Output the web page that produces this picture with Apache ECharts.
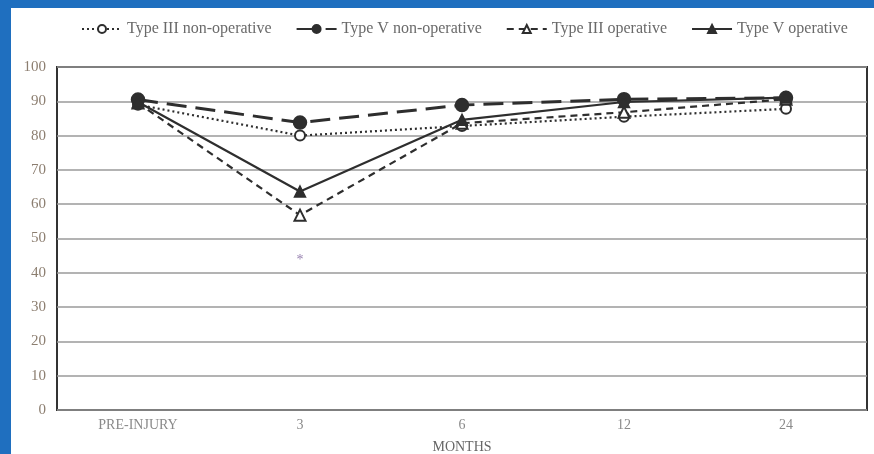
<!DOCTYPE html>
<html>
<head>
<meta charset="utf-8">
<style>
  html, body { margin: 0; padding: 0; background: #ffffff; }
  #wrap { position: relative; width: 874px; height: 454px; overflow: hidden; }
  #chart { position: absolute; left: 0; top: 0; width: 874px; height: 454px; }
  .strip { position: absolute; background: #1f6fbf; }
</style>
<script src="https://cdn.jsdelivr.net/npm/echarts@6/dist/echarts.min.js"></script>
</head>
<body>
<div id="wrap">
  <div id="chart"></div>
  <div class="strip" style="left:0;top:0;width:874px;height:8px;"></div>
  <div class="strip" style="left:0;top:0;width:11px;height:454px;"></div>
</div>
<script>
const categories = ["PRE-INJURY", "3", "6", "12", "24"];
const typeIIINonOp = [89, 80, 82.8, 85.5, 87.8];
const typeVNonOp = [90.5, 83.8, 88.9, 90.6, 91];
const typeIIIOp = [89.5, 56.8, 83.6, 86.8, 90.6];
const typeVOp = [89.8, 63.7, 84.6, 89.8, 91.1];
const asteriskPoint = [[1, 43.5]];

const ink = "#2e2e2e";
const serif = "'Liberation Serif', 'DejaVu Serif', serif";

const chart = echarts.init(document.getElementById("chart"));

const lineSeries = (name, data, lineType, width, symbol, size) => ({
  name,
  type: "line",
  data,
  symbol,
  symbolSize: size,
  color: ink,
  lineStyle: { color: ink, width, type: lineType },
  itemStyle: { color: ink, borderColor: ink, borderWidth: 1.5 },
  z: 3,
});

chart.setOption({
  animation: false,
  backgroundColor: "#ffffff",
  legend: {
    data: ["Type III non-operative", "Type V non-operative", "Type III operative", "Type V operative"],
    top: 16,
    left: 76,
    itemWidth: 40,
    itemHeight: 10,
    itemGap: 24,
    textStyle: { fontFamily: serif, fontSize: 16, color: "#6a6a6a" },
  },
  grid: {
    left: 57,
    right: 7,
    top: 67,
    bottom: 44,
    outerBoundsMode: "none",
    show: true,
    borderColor: "#333",
    borderWidth: 2,
    backgroundColor: "#ffffff",
  },
  xAxis: {
    type: "category",
    data: categories,
    boundaryGap: true,
    name: "MONTHS",
    nameLocation: "middle",
    nameGap: 30,
    nameTextStyle: { fontFamily: serif, fontSize: 14, color: "#666" },
    axisLine: { show: false },
    axisTick: { show: false },
    axisLabel: { fontFamily: serif, fontSize: 14, color: "#8a8a8a", margin: 8 },
  },
  yAxis: {
    type: "value",
    min: 0,
    max: 100,
    interval: 10,
    axisLine: { show: false },
    axisTick: { show: false },
    axisLabel: { fontFamily: serif, fontSize: 15, color: "#8c7e70", margin: 11 },
    splitLine: { lineStyle: { color: "#9a9a9a", width: 1.5 } },
  },
  series: [
    lineSeries("Type III non-operative", typeIIINonOp, [2, 3], 2.2, "emptyCircle", 10),
    lineSeries("Type V non-operative", typeVNonOp, [20, 9], 3, "circle", 13),
    lineSeries("Type III operative", typeIIIOp, [7, 5], 2.2, "emptyTriangle", 11),
    lineSeries("Type V operative", typeVOp, "solid", 2.2, "triangle", 11),
    {
      name: "sig",
      type: "scatter",
      data: asteriskPoint,
      symbolSize: 1,
      itemStyle: { color: "transparent" },
      label: {
        show: true,
        position: "inside",
        formatter: "*",
        fontFamily: serif,
        fontSize: 14,
        color: "#7a5f9a",
      },
      z: 4,
    },
  ],
});
</script>
</body>
</html>
